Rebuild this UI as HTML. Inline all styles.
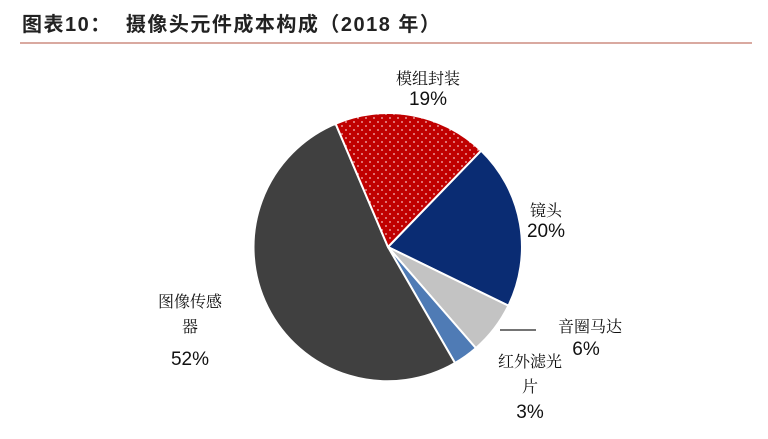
<!DOCTYPE html>
<html><head><meta charset="utf-8"><style>
body{margin:0;background:#fff;width:768px;height:439px;overflow:hidden;position:relative}
.t{position:absolute;font-family:"Liberation Sans","Noto Sans CJK SC",sans-serif;font-weight:bold;font-size:20px;letter-spacing:1.5px;color:#222;left:22px;top:8px;white-space:pre}
.l{position:absolute;font-family:"Liberation Serif","Noto Serif CJK SC",serif;font-size:16px;color:#111;text-align:center;transform:translateX(-50%);white-space:nowrap}
.p{font-family:"Liberation Sans",sans-serif;font-size:19px}
</style></head><body>
<div class="t">图表10：  摄像头元件成本构成（2018 年）</div>
<div style="position:absolute;left:20px;top:42px;width:732px;height:2px;background:#d9a9a0"></div>
<svg width="768" height="439" style="position:absolute;left:0;top:0">
<defs><pattern id="d" width="8" height="8" patternUnits="userSpaceOnUse">
<rect width="8" height="8" fill="#c00000"/><circle cx="2" cy="2" r="0.9" fill="#f3c0c0"/><circle cx="6" cy="6" r="0.9" fill="#f3c0c0"/></pattern></defs>
<g stroke="#fff" stroke-width="2" id="pie"></g>
<line x1="500" y1="330" x2="536" y2="330" stroke="#222" stroke-width="1.3"/>
</svg>
<script>
var cx=388,cy=247,r=134,g=document.getElementById('pie');
var s=[[44,116,'#0a2c73'],[116,139,'#c3c3c3'],[139,150,'#4f7bb5'],[150,337,'#404040'],[337,404,'url(#d)']];
s.forEach(function(a){var f=function(t){t=t*Math.PI/180;return (cx+r*Math.sin(t)).toFixed(1)+','+(cy-r*Math.cos(t)).toFixed(1)};
var p=document.createElementNS('http://www.w3.org/2000/svg','path');
p.setAttribute('d','M'+cx+','+cy+'L'+f(a[0])+'A'+r+','+r+' 0 '+((a[1]-a[0])>180?1:0)+' 1 '+f(a[1])+'Z');
p.setAttribute('fill',a[2]);g.appendChild(p);});
</script>
<div class="l" style="left:428px;top:66px">模组封装<br><span class="p">19%</span></div>
<div class="l" style="left:546px;top:198px">镜头<br><span class="p">20%</span></div>
<div class="l" style="left:590px;top:314px">音圈马达</div>
<div class="l p" style="left:586px;top:339px">6%</div>
<div class="l" style="left:530px;top:350px;line-height:25px">红外滤光<br>片<br><span class="p">3%</span></div>
<div class="l" style="left:190px;top:290px;line-height:25px">图像传感<br>器<br><span class="p" style="line-height:40px">52%</span></div>
</body></html>
